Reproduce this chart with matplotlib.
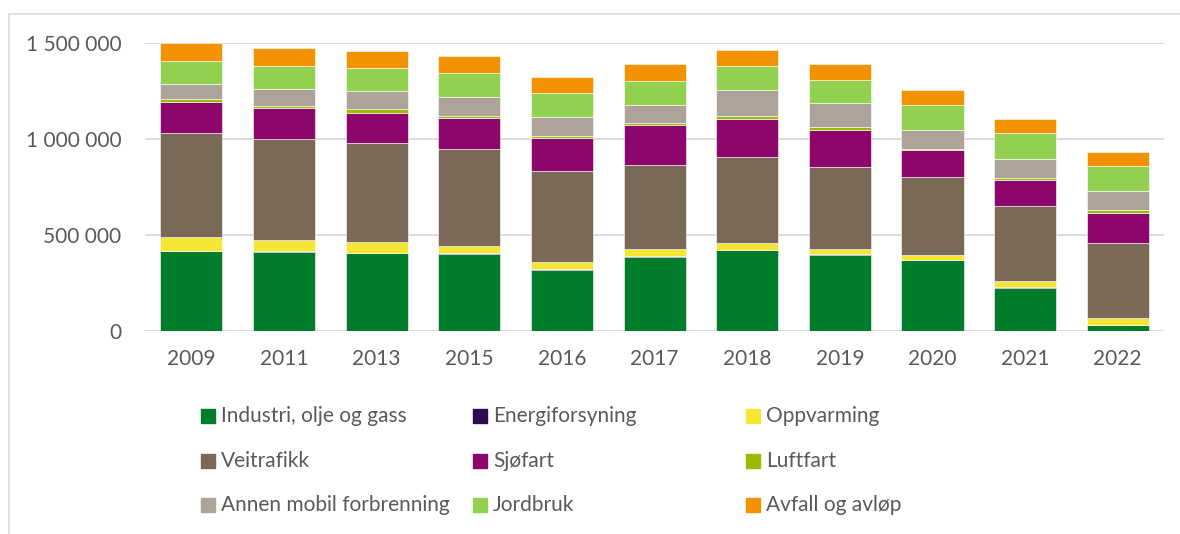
import matplotlib
matplotlib.use("Agg")
import matplotlib.pyplot as plt
import matplotlib.patches as mpatches
import matplotlib.ticker as ticker
import numpy as np

years = ["2009", "2011", "2013", "2015", "2016", "2017", "2018", "2019", "2020", "2021", "2022"]

industri = [417400, 414000, 407000, 403600, 318700, 388000, 422600, 396600, 368900, 225200, 31200]
energi = [2000, 2000, 2000, 2000, 2000, 2000, 2000, 2000, 2000, 2000, 2000]
oppvarming = [72700, 58900, 55400, 39800, 39800, 39800, 36400, 31200, 26000, 31200, 32900]
veitrafikk = [538700, 526500, 514400, 504000, 474600, 436500, 446900, 422600, 403600, 394900, 394900]
sjofart = [161100, 159300, 159300, 159300, 168000, 204400, 194000, 192300, 140300, 135100, 155900]
luftfart = [15600, 12100, 17300, 12100, 12100, 12100, 17300, 17300, 8700, 6900, 13900]
annen = [79700, 86600, 93500, 97000, 97000, 93500, 136800, 126400, 97000, 102200, 98700]
jordbruk = [121200, 121200, 119500, 128200, 128200, 128200, 126400, 121200, 131600, 133400, 129900]
avfall = [93500, 91800, 90100, 84900, 84900, 84900, 79700, 79700, 76200, 74500, 71000]

names = ["Industri, olje og gass", "Energiforsyning", "Oppvarming",
         "Veitrafikk", "Sjøfart", "Luftfart",
         "Annen mobil forbrenning", "Jordbruk", "Avfall og avløp"]
series = [industri, energi, oppvarming, veitrafikk, sjofart, luftfart, annen, jordbruk, avfall]
colors = ['#007C2A', '#2B0A4F', '#F5E633', '#7A6956', '#8C066C', '#99BB00', '#AEA398', '#92D050', '#F29200']

plt.rcParams['font.family'] = ['Lato', 'DejaVu Sans']
txtcol = '#595959'

fig = plt.figure(figsize=(11.8, 5.34), dpi=100)
ax = fig.add_axes([0.1229, 0.3801, 0.8636, 0.5393])

x = np.arange(len(years))
bottom = np.zeros(len(years))
for name, vals, c in zip(names, series, colors):
    ax.bar(x, vals, 0.67, bottom=bottom, color=c, edgecolor='white', linewidth=0.4, zorder=3)
    bottom += np.array(vals)

ax.set_xlim(-0.5, len(years) - 0.5)
ax.set_ylim(0, 1500000)
ax.yaxis.set_major_locator(ticker.MultipleLocator(500000))
ax.yaxis.set_major_formatter(ticker.FuncFormatter(lambda v, p: f"{int(v):,}".replace(",", " ")))
ax.set_xticks(x)
ax.set_xticklabels(years)
ax.tick_params(axis='both', length=0, labelsize=15, labelcolor=txtcol)
ax.tick_params(axis='x', pad=13)
ax.tick_params(axis='y', pad=17)
ax.grid(axis='y', color='#D9D9D9', linewidth=1.3, zorder=0)
for s in ax.spines.values():
    s.set_visible(False)

# legend: 3 equal-width columns, like the original
col_x = [201, 473, 746]
row_y = [416, 461, 505]
W, H = 1180.0, 534.0
for i, (name, c) in enumerate(zip(names, colors)):
    cx = col_x[i % 3]
    cy = row_y[i // 3]
    fig.add_artist(mpatches.Rectangle((cx / W, (H - cy - 7) / H), 14 / W, 14 / H,
                                      transform=fig.transFigure, color=c))
    fig.text((cx + 20) / W, (H - cy) / H, name, fontsize=15, color=txtcol, va='center', ha='left')

# outer frame (partly cut off in the original)
fig.add_artist(plt.Line2D([9 / W, 9 / W], [0, (H - 14) / H], transform=fig.transFigure, color='#D9D9D9', linewidth=1.2))
fig.add_artist(plt.Line2D([9 / W, 1], [(H - 14) / H, (H - 14) / H], transform=fig.transFigure, color='#D9D9D9', linewidth=1.2))

fig.savefig("out.png", dpi=100)
